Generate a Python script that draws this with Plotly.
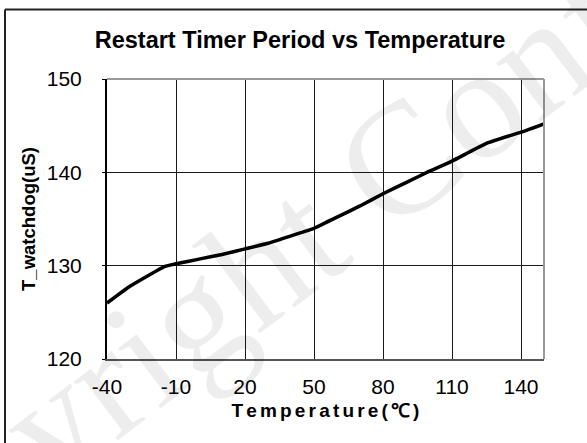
import plotly.graph_objects as go

# Restart Timer Period vs Temperature
temp_c = [-40, -30, -15, -10, 0, 10, 20, 30, 40, 50, 60, 70, 80, 90, 100, 110, 125, 140, 150]
t_watchdog_us = [126.0, 127.8, 129.9, 130.2, 130.7, 131.2, 131.8, 132.4, 133.2, 134.0,
                 135.2, 136.4, 137.7, 138.9, 140.1, 141.2, 143.1, 144.3, 145.2]

x_ticks = [-40, -10, 20, 50, 80, 110, 140]
x_labels = ["-40", "-10", "20", "50", "80", "110", "140"]
y_ticks = [120, 130, 140, 150]

W, H = 587, 443
L, R, T, B = 107, 43, 79, 84
pw, ph = W - L - R, H - T - B


def px(x):  # pixel -> paper (x)
    return (x - L) / pw


def py(y):  # pixel -> paper (y)
    return (H - B - y) / ph


# letter-spaced axis title (six-per-em spaces between glyphs)
x_title = "\u2006".join("Temperature(℃)")

fig = go.Figure()
fig.add_trace(go.Scatter(
    x=temp_c, y=t_watchdog_us, mode="lines",
    line=dict(color="black", width=3.5, shape="spline", smoothing=0.4),
    showlegend=False, hoverinfo="skip",
))

fig.update_layout(
    width=W, height=H,
    margin=dict(l=L, r=R, t=T, b=B),
    paper_bgcolor="white", plot_bgcolor="white",
    font=dict(family="Liberation Sans, Arial, sans-serif", color="black"),
    title=dict(
        text="<b>Restart Timer Period vs Temperature</b>",
        x=300 / W, xref="container", xanchor="center",
        y=1 - 40 / H, yref="container", yanchor="middle",
        font=dict(size=23.5, color="black"),
    ),
)

fig.update_xaxes(
    range=[-40, 150], tickvals=x_ticks, ticktext=x_labels,
    showgrid=True, gridcolor="#1a1a1a", gridwidth=1,
    showline=True, linecolor="#555", linewidth=2,
    ticks="", ticklabelstandoff=8, tickfont=dict(size=21), zeroline=False,
    title=dict(text=f"<b>{x_title}</b>", font=dict(size=19), standoff=6),
)
fig.update_yaxes(
    range=[120, 150], tickvals=y_ticks,
    showgrid=True, gridcolor="#1a1a1a", gridwidth=1,
    showline=True, linecolor="black", linewidth=2,
    ticks="outside", ticklen=3, tickcolor="black",
    ticklabelstandoff=16, tickfont=dict(size=21), zeroline=False,
    title=dict(text="<b>T_watchdog(uS)</b>", font=dict(size=18.5), standoff=6),
)

# gray frame on top/right of plot area
fig.add_shape(type="line", xref="paper", yref="paper", x0=0, x1=1, y0=1, y1=1,
              line=dict(color="#999", width=2))
fig.add_shape(type="line", xref="paper", yref="paper", x0=1, x1=1, y0=0, y1=1,
              line=dict(color="#999", width=2))

# outer chart frame (left and top edges visible)
fig.add_shape(type="line", xref="paper", yref="paper",
              x0=px(5), x1=px(5), y0=py(9.5), y1=py(H + 5),
              line=dict(color="#222", width=2))
fig.add_shape(type="line", xref="paper", yref="paper",
              x0=px(5), x1=px(W + 5), y0=py(9.5), y1=py(9.5),
              line=dict(color="#222", width=2))

# watermark
fig.add_annotation(
    text="Copyright Confidential", xref="paper", yref="paper",
    x=px(400), y=py(160), xanchor="center", yanchor="middle",
    textangle=-37, showarrow=False,
    font=dict(family="Liberation Serif, serif", size=160, color="rgba(0,0,0,0.07)"),
)

fig.write_html("out.html", config={"displayModeBar": False},
               post_script="document.body.style.margin='0';")
